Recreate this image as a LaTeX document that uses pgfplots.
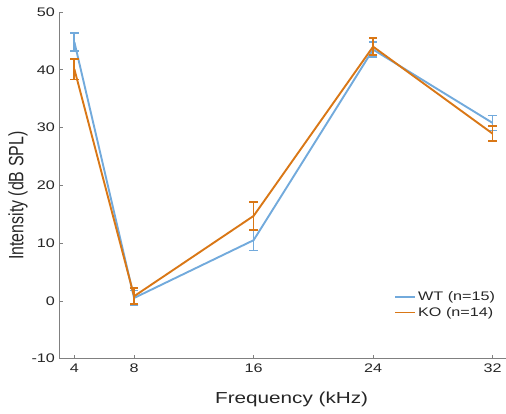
\documentclass[border=0pt]{standalone}
\usepackage{pgfplots}
\pgfplotsset{compat=1.18}
\usepackage{fontspec}
\setmainfont{Liberation Sans}[FakeStretch=1.3]
\newfontfamily\plainsans{Liberation Sans}
\definecolor{wtblue}{RGB}{114,170,220}
\definecolor{kooran}{RGB}{217,119,22}
\definecolor{axgray}{RGB}{128,128,128}
\definecolor{txtgray}{RGB}{38,38,38}
\begin{document}
\begin{tikzpicture}
\begin{axis}[
  name=ax,
  scale only axis,
  width=447bp, height=347bp,
  xmin=3, xmax=32.9, ymin=-10, ymax=50,
  axis x line*=bottom, axis y line*=left,
  axis line style={axgray, line width=0.6pt},
  tick align=inside,
  major tick length=4bp,
  tick style={axgray, line width=0.6pt},
  xtick={4,8,16,24,32},
  ytick={-10,0,10,20,30,40,50},
  /pgf/number format/assume math mode=true,
  ticklabel style={font=\fontsize{12.5}{14}\selectfont, text=txtgray},
  xticklabel style={yshift=-2bp},
  yticklabel style={xshift=-1bp},
  xlabel={Frequency (kHz)},
  ylabel={\scalebox{1}[1.3]{\plainsans Intensity (dB SPL)}},
  label style={font=\fontsize{16}{19}\selectfont, text=txtgray},
  xlabel style={at={(axis description cs:0.52,-0.118)}, anchor=center},
  ylabel style={at={(axis description cs:-0.093,0.47)}, anchor=center},
  legend style={at={(0.745,0.205)}, anchor=north west, draw=none, fill=none,
    font=\fontsize{12.5}{14}\selectfont, text=txtgray, row sep=1bp,
    inner sep=2bp},
  legend cell align=left,
  legend image code/.code={\draw[#1] (0bp,0bp) -- (20bp,0bp);},
  every error bar/.append style={line width=1.8bp},
]
\addplot[wtblue, line width=1.9bp, no markers,
  error bars/.cd, y dir=both, y explicit,
  error bar style={line width=1.8bp, wtblue},
  error mark options={rotate=90, mark size=4.3bp, line width=1.8bp, wtblue}]
  coordinates {
  (4,44.8) +- (0,1.5)
  (8,0.5) +- (0,1.3)
  (16,10.5) +- (0,1.8)
  (24,43.5) +- (0,1.3)
  (32,30.8) +- (0,1.3)
  };
\addlegendentry{WT (n=15)}
\addplot[kooran, line width=1.9bp, no markers,
  error bars/.cd, y dir=both, y explicit,
  error bar style={line width=1.8bp, kooran},
  error mark options={rotate=90, mark size=4.3bp, line width=1.8bp, kooran}]
  coordinates {
  (4,40.1) +- (0,1.8)
  (8,0.8) +- (0,1.4)
  (16,14.7) +- (0,2.4)
  (24,44.0) +- (0,1.5)
  (32,28.95) +- (0,1.35)
  };
\addlegendentry{KO (n=14)}
\end{axis}
\pgfresetboundingbox
\path ([shift={(-59.5bp,-55bp)}]ax.south west) rectangle ([shift={(0bp,12bp)}]ax.north east);
\end{tikzpicture}
\end{document}
